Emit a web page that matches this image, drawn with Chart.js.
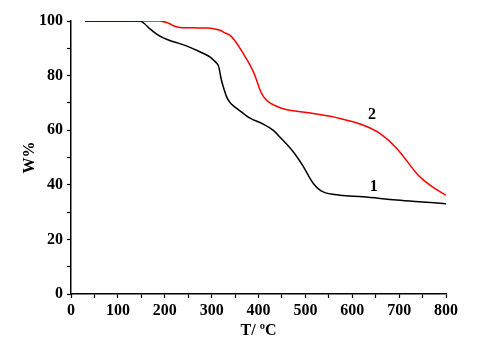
<!DOCTYPE html>
<html>
<head>
<meta charset="utf-8">
<script src="https://cdn.jsdelivr.net/npm/chart.js@4"></script>
<style>
  html, body { margin: 0; padding: 0; background: #fff; }
  #wrap { width: 488px; height: 346px; }
</style>
</head>
<body>
<div id="wrap"><canvas id="tgaChart"></canvas></div>
<script>
// ===== Data =====
const temp1 = [30, 100, 147, 158, 168, 182, 197, 215, 232, 250, 268, 285, 297, 306, 314, 318, 321, 326, 332, 339, 346, 368, 382, 410, 431, 446, 474, 496, 517, 538, 574, 623, 695, 750, 800];
const weight1 = [100, 100, 100, 98.8, 97.2, 95.3, 93.8, 92.6, 91.7, 90.6, 89.3, 87.9, 86.8, 85.4, 83.8, 80.8, 78.3, 75.3, 72.2, 70.2, 69.0, 66.1, 64.4, 62.2, 60.0, 57.4, 52.1, 46.6, 40.5, 37.4, 36.2, 35.6, 34.4, 33.7, 33.1];

const temp2 = [30, 150, 190, 208, 218, 232, 260, 289, 304, 318, 330, 339, 350, 361, 372, 382, 390, 396, 403, 408, 414, 422, 432, 446, 467, 517, 574, 624, 659, 695, 737, 752, 775, 800];
const weight2 = [100, 100, 100, 99.2, 98.3, 97.6, 97.5, 97.4, 97.2, 96.6, 95.5, 94.8, 92.7, 89.9, 86.8, 83.8, 81.0, 78.3, 74.8, 73.0, 71.6, 70.3, 69.3, 68.2, 67.3, 66.1, 64.3, 61.8, 58.8, 53.3, 44.2, 41.7, 38.8, 36.2];

const curveNames = ['1', '2'];
const labelT = [646, 642];
const labelW = [39.1, 65.5];

const xTicks = [0, 100, 200, 300, 400, 500, 600, 700, 800];
const yTicks = [0, 20, 40, 60, 80, 100];

const serif = '"Liberation Serif", "Times New Roman", serif';

const toPoints = (xs, ys) => xs.map((x, i) => ({ x: x, y: ys[i] }));

// ===== curve numbers drawn next to the lines =====
const curveLabels = {
  id: 'curveLabels',
  afterDatasetsDraw(chart) {
    const { ctx, scales } = chart;
    ctx.save();
    ctx.fillStyle = '#000';
    ctx.font = 'bold 16px ' + serif;
    ctx.textAlign = 'center';
    ctx.textBaseline = 'middle';
    curveNames.forEach((name, i) => {
      ctx.fillText(name, scales.x.getPixelForValue(labelT[i]), scales.y.getPixelForValue(labelW[i]));
    });
    ctx.restore();
  }
};

const ctx = document.getElementById('tgaChart');

new Chart(ctx, {
  type: 'line',
  data: {
    datasets: [
      {
        label: curveNames[0],
        data: toPoints(temp1, weight1),
        borderColor: '#000000',
        borderWidth: 1.5,
        pointRadius: 0,
        tension: 0.35
      },
      {
        label: curveNames[1],
        data: toPoints(temp2, weight2),
        borderColor: '#ff0000',
        borderWidth: 1.5,
        pointRadius: 0,
        tension: 0.35
      }
    ]
  },
  options: {
    responsive: true,
    maintainAspectRatio: false,
    animation: false,
    layout: { padding: { left: 0, right: 42, top: 21, bottom: 0 } },
    plugins: {
      legend: { display: false },
      tooltip: { enabled: false }
    },
    scales: {
      x: {
        type: 'linear',
        min: 0,
        max: 800,
        afterFit: (scale) => { scale.height = 52; },
        afterBuildTicks: (scale) => {
          const t = [];
          for (let v = 0; v <= 800; v += 50) t.push({ value: v });
          scale.ticks = t;
        },
        border: { display: true, color: '#000', width: 1.5 },
        grid: {
          drawOnChartArea: false,
          drawTicks: true,
          tickLength: 4,
          tickColor: '#000',
          tickWidth: 1.2
        },
        ticks: {
          autoSkip: false,
          maxRotation: 0,
          padding: 3,
          color: '#000',
          font: { family: serif, size: 16, weight: 'bold' },
          callback: (v) => xTicks.includes(v) ? v : ''
        },
        title: {
          display: true,
          text: 'T/ \u00BAC',
          color: '#000',
          font: { family: serif, size: 16, weight: 'bold' },
          padding: { top: 0, bottom: 6 }
        }
      },
      y: {
        min: 0,
        max: 100,
        afterFit: (scale) => { scale.width = 71; },
        afterBuildTicks: (scale) => {
          const t = [];
          for (let v = 0; v <= 100; v += 10) t.push({ value: v });
          scale.ticks = t;
        },
        border: { display: true, color: '#000', width: 1.5 },
        grid: {
          drawOnChartArea: false,
          drawTicks: true,
          tickLength: 4,
          tickColor: '#000',
          tickWidth: 1.2
        },
        ticks: {
          autoSkip: false,
          padding: 4,
          color: '#000',
          font: { family: serif, size: 16, weight: 'bold' },
          callback: (v) => yTicks.includes(v) ? v : ''
        },
        title: {
          display: true,
          text: 'W%',
          color: '#000',
          font: { family: serif, size: 16, weight: 'bold' },
          padding: { top: 20, bottom: 0 }
        }
      }
    }
  },
  plugins: [curveLabels]
});
</script>
</body>
</html>
